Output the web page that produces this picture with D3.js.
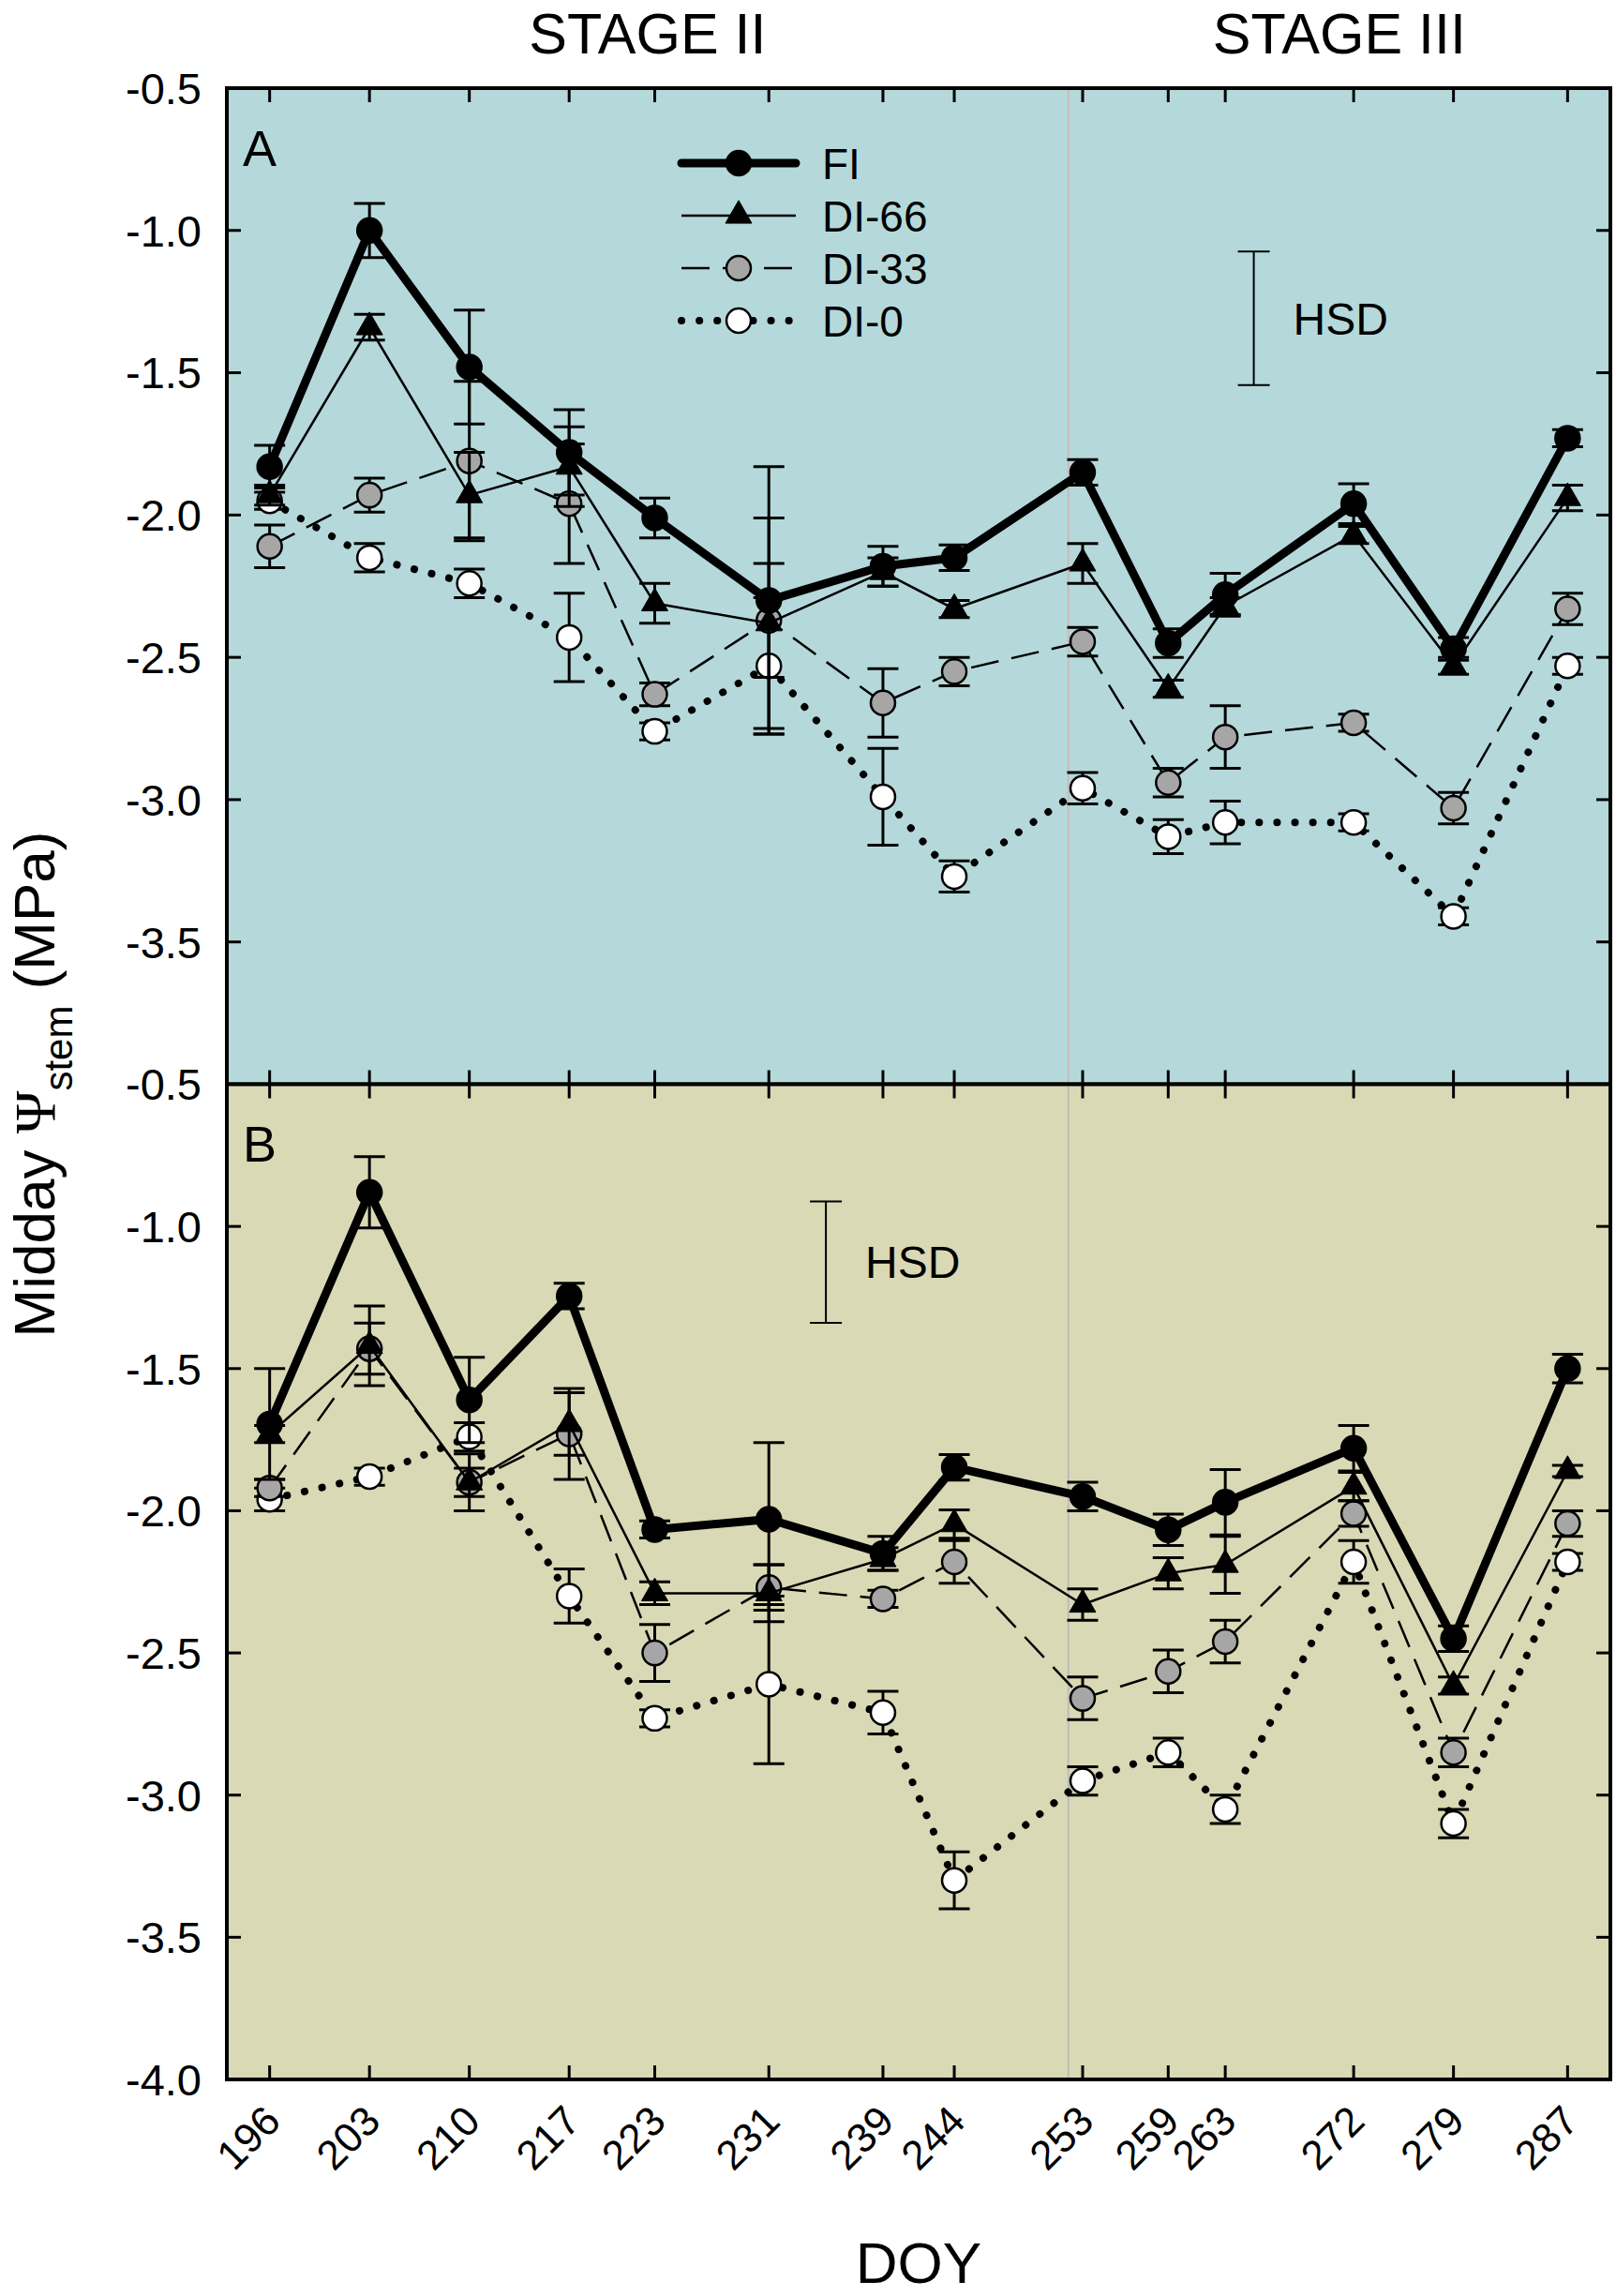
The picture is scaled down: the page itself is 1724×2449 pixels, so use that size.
<!DOCTYPE html>
<html>
<head>
<meta charset="UTF-8">
<script src="https://d3js.org/d3.v7.min.js"></script>
<style>
  body { margin: 0; background: #fff; }
  svg text { font-family: 'Liberation Sans', Arial, sans-serif; fill: #000; }
</style>
</head>
<body>
<script>
  // ---- data ----
  const doy = [196, 203, 210, 217, 223, 231, 239, 244, 253, 259, 263, 272, 279, 287];
  const stageSplit = 252;
  const yTicksA = [-0.5, -1.0, -1.5, -2.0, -2.5, -3.0, -3.5];
  const yTicksB = [-0.5, -1.0, -1.5, -2.0, -2.5, -3.0, -3.5, -4.0];
  const seriesNames = ['FI', 'DI-66', 'DI-33', 'DI-0'];

  // panel A
  const fiA     = [-1.83, -1.00, -1.48, -1.78, -2.01, -2.30, -2.18, -2.15, -1.85, -2.45, -2.28, -1.96, -2.47, -1.73];
  const fiAErr  = [0.075, 0.095, 0.20, 0.15, 0.07, 0.47, 0.07, 0.045, 0.045, 0.05, 0.075, 0.07, 0.04, 0.03];
  const d66A    = [-1.93, -1.34, -1.93, -1.83, -2.31, -2.38, -2.20, -2.33, -2.17, -2.61, -2.32, -2.07, -2.53, -1.94];
  const d66AErr = [0.035, 0.045, 0.15, 0.14, 0.07, 0.37, 0.05, 0.03, 0.07, 0.03, 0.03, 0.03, 0.03, 0.045];
  const d33A    = [-2.11, -1.93, -1.81, -1.96, -2.63, -2.37, -2.66, -2.55, -2.445, -2.94, -2.78, -2.73, -3.03, -2.33];
  const d33AErr = [0.075, 0.06, 0.28, 0.21, 0.04, 0.20, 0.12, 0.05, 0.05, 0.05, 0.11, 0.03, 0.055, 0.055];
  const d0A     = [-1.95, -2.15, -2.24, -2.43, -2.76, -2.53, -2.99, -3.27, -2.96, -3.13, -3.08, -3.08, -3.41, -2.53];
  const d0AErr  = [0.03, 0.05, 0.05, 0.155, 0.03, 0.24, 0.17, 0.055, 0.055, 0.06, 0.075, 0.03, 0.03, 0.03];

  // panel B
  const fiB     = [-1.695, -0.88, -1.61, -1.245, -2.066, -2.03, -2.15, -1.847, -1.95, -2.067, -1.97, -1.78, -2.45, -1.50];
  const fiBErr  = [0.195, 0.125, 0.15, 0.045, 0.03, 0.27, 0.06, 0.045, 0.05, 0.055, 0.115, 0.08, 0.045, 0.05];
  const d66B    = [-1.73, -1.42, -1.90, -1.695, -2.29, -2.29, -2.17, -2.047, -2.33, -2.22, -2.19, -1.915, -2.615, -1.86];
  const d66BErr = [0.03, 0.14, 0.10, 0.11, 0.04, 0.10, 0.04, 0.05, 0.055, 0.055, 0.10, 0.05, 0.03, 0.02];
  const d33B    = [-1.92, -1.43, -1.90, -1.73, -2.50, -2.27, -2.31, -2.18, -2.66, -2.565, -2.46, -2.01, -2.85, -2.045];
  const d33BErr = [0.03, 0.09, 0.05, 0.16, 0.10, 0.08, 0.03, 0.075, 0.075, 0.075, 0.075, 0.045, 0.05, 0.045];
  const d0B     = [-1.96, -1.88, -1.74, -2.30, -2.73, -2.61, -2.71, -3.30, -2.95, -2.85, -3.05, -2.18, -3.10, -2.18];
  const d0BErr  = [0.04, 0.03, 0.05, 0.095, 0.03, 0.28, 0.075, 0.10, 0.05, 0.05, 0.05, 0.075, 0.05, 0.03];

  // HSD bars: [doy, top, bottom]
  const hsdA = [265, -1.074, -1.543];
  const hsdB = [235, -0.912, -1.339];

  // ---- layout ----
  const W = 1724, H = 2449;
  const left = 242, right = 1718;
  const topA = 94, mid = 1156.5, botB = 2218;

  const svg = d3.select('body').append('svg').attr('width', W).attr('height', H);
  svg.append('rect').attr('width', W).attr('height', H).attr('fill', '#fff');

  const x = d3.scaleLinear().domain([193, 290]).range([left, right]);

  const styles = {
    'FI':    { width: 9,   dash: null,       cap: 'butt',  shape: 'circle',   fill: '#000' },
    'DI-66': { width: 2.5, dash: null,       cap: 'butt',  shape: 'triangle', fill: '#000' },
    'DI-33': { width: 2.5, dash: '30,14',    cap: 'butt',  shape: 'circle',   fill: '#a6a6a6' },
    'DI-0':  { width: 8,   dash: '0.1,19',   cap: 'round', shape: 'circle',   fill: '#fff' }
  };

  const panels = [
    { label: 'A', y0: mid, y1: topA, bg: '#b5d9da', split: '#c9b9bd', ticks: yTicksA, hsd: hsdA,
      series: { 'FI': [fiA, fiAErr], 'DI-66': [d66A, d66AErr], 'DI-33': [d33A, d33AErr], 'DI-0': [d0A, d0AErr] } },
    { label: 'B', y0: botB, y1: mid, bg: '#d9d9b5', split: '#bcbcbc', ticks: yTicksB, hsd: hsdB,
      series: { 'FI': [fiB, fiBErr], 'DI-66': [d66B, d66BErr], 'DI-33': [d33B, d33BErr], 'DI-0': [d0B, d0BErr] } }
  ];

  function drawMarker(g, shape, fill, cx, cy) {
    if (shape === 'triangle') {
      g.append('path')
        .attr('d', d3.symbol(d3.symbolTriangle, 340)())
        .attr('transform', `translate(${cx},${cy})`)
        .attr('fill', fill).attr('stroke', '#000').attr('stroke-width', 1);
    } else {
      g.append('circle').attr('cx', cx).attr('cy', cy).attr('r', 13)
        .attr('fill', fill).attr('stroke', '#000').attr('stroke-width', 2.5);
    }
  }

  panels.forEach(p => {
    const y = d3.scaleLinear().domain([-4, -0.5]).range([p.y0, p.y1]);
    const g = svg.append('g');

    g.append('rect').attr('x', left).attr('y', p.y1)
      .attr('width', right - left).attr('height', p.y0 - p.y1).attr('fill', p.bg);

    // stage separator
    g.append('line').attr('x1', x(stageSplit)).attr('x2', x(stageSplit))
      .attr('y1', p.y1).attr('y2', p.y0).attr('stroke', p.split).attr('stroke-width', 2);

    // series, FI last so it sits on top
    seriesNames.slice().reverse().forEach(name => {
      const st = styles[name];
      const vals = p.series[name][0], errs = p.series[name][1];
      const pts = doy.map((d, i) => ({ d, v: vals[i], e: errs[i] }));
      const sg = g.append('g');

      sg.append('path')
        .datum(pts)
        .attr('d', d3.line().x(q => x(q.d)).y(q => y(q.v)))
        .attr('fill', 'none').attr('stroke', '#000')
        .attr('stroke-width', st.width)
        .attr('stroke-dasharray', st.dash)
        .attr('stroke-linecap', st.cap)
        .attr('stroke-linejoin', 'round');

      pts.forEach(q => {
        const cx = x(q.d), ya = y(q.v + q.e), yb = y(q.v - q.e);
        sg.append('line').attr('x1', cx).attr('x2', cx).attr('y1', ya).attr('y2', yb)
          .attr('stroke', '#000').attr('stroke-width', 3);
        [ya, yb].forEach(yy => sg.append('line')
          .attr('x1', cx - 16.5).attr('x2', cx + 16.5).attr('y1', yy).attr('y2', yy)
          .attr('stroke', '#000').attr('stroke-width', 3));
      });
      pts.forEach(q => drawMarker(sg, st.shape, st.fill, x(q.d), y(q.v)));
    });

    // HSD bar
    const hx = x(p.hsd[0]);
    g.append('line').attr('x1', hx).attr('x2', hx).attr('y1', y(p.hsd[1])).attr('y2', y(p.hsd[2]))
      .attr('stroke', '#000').attr('stroke-width', 2);
    [p.hsd[1], p.hsd[2]].forEach(v => g.append('line')
      .attr('x1', hx - 17).attr('x2', hx + 17).attr('y1', y(v)).attr('y2', y(v))
      .attr('stroke', '#000').attr('stroke-width', 2));
    g.append('text').attr('x', hx + 42).attr('y', y((p.hsd[1] + p.hsd[2]) / 2))
      .attr('dy', '0.36em').attr('font-size', 48).text('HSD');

    // ticks (inward) on all four sides
    doy.forEach(d => {
      g.append('line').attr('x1', x(d)).attr('x2', x(d)).attr('y1', p.y1).attr('y2', p.y1 + 15)
        .attr('stroke', '#000').attr('stroke-width', 3);
      g.append('line').attr('x1', x(d)).attr('x2', x(d)).attr('y1', p.y0).attr('y2', p.y0 - 15)
        .attr('stroke', '#000').attr('stroke-width', 3);
    });
    p.ticks.forEach(t => {
      g.append('line').attr('x1', left).attr('x2', left + 15).attr('y1', y(t)).attr('y2', y(t))
        .attr('stroke', '#000').attr('stroke-width', 3);
      g.append('line').attr('x1', right).attr('x2', right - 15).attr('y1', y(t)).attr('y2', y(t))
        .attr('stroke', '#000').attr('stroke-width', 3);
      g.append('text').attr('x', 215).attr('y', y(t)).attr('dy', '0.36em')
        .attr('text-anchor', 'end').attr('font-size', 47).text(t.toFixed(1));
    });

    g.append('rect').attr('x', left).attr('y', p.y1)
      .attr('width', right - left).attr('height', p.y0 - p.y1)
      .attr('fill', 'none').attr('stroke', '#000').attr('stroke-width', 4);

    g.append('text').attr('x', left + 17).attr('y', p.y1 + (p.label === 'A' ? 83 : 82))
      .attr('font-size', 54).text(p.label);
  });

  // legend
  const legY = [174, 230, 286, 342];
  seriesNames.forEach((name, i) => {
    const st = styles[name];
    const lg = svg.append('g');
    lg.append('line').attr('x1', 727).attr('x2', 849).attr('y1', legY[i]).attr('y2', legY[i])
      .attr('stroke', '#000').attr('stroke-width', st.width)
      .attr('stroke-dasharray', st.dash).attr('stroke-linecap', name === 'FI' ? 'round' : st.cap);
    drawMarker(lg, st.shape, st.fill, 788, legY[i]);
    lg.append('text').attr('x', 877).attr('y', legY[i]).attr('dy', '0.36em')
      .attr('font-size', 46).text(name);
  });

  // stage titles
  const dom = x.domain();
  svg.append('text').attr('x', x((dom[0] + stageSplit) / 2)).attr('y', 57)
    .attr('text-anchor', 'middle').attr('font-size', 61).text('STAGE II');
  svg.append('text').attr('x', x((stageSplit + dom[1]) / 2)).attr('y', 57)
    .attr('text-anchor', 'middle').attr('font-size', 61).text('STAGE III');

  // x tick labels
  doy.forEach(d => {
    svg.append('text')
      .attr('transform', `translate(${x(d) + 14},${botB + 47}) rotate(-45)`)
      .attr('text-anchor', 'end').attr('font-size', 44).text(d);
  });

  svg.append('text').attr('x', (left + right) / 2).attr('y', 2435)
    .attr('text-anchor', 'middle').attr('font-size', 62).text('DOY');

  // y title
  const yt = svg.append('text')
    .attr('transform', `translate(58,${mid}) rotate(-90)`)
    .attr('text-anchor', 'middle').attr('font-size', 62);
  yt.append('tspan').text('Midday ');
  yt.append('tspan').attr('font-family', "'Liberation Serif', 'DejaVu Serif', serif").text('\u03A8');
  yt.append('tspan').attr('font-size', 42).attr('dy', 19).text('stem');
  yt.append('tspan').attr('dy', -19).text(' (MPa)');
</script>
</body>
</html>
